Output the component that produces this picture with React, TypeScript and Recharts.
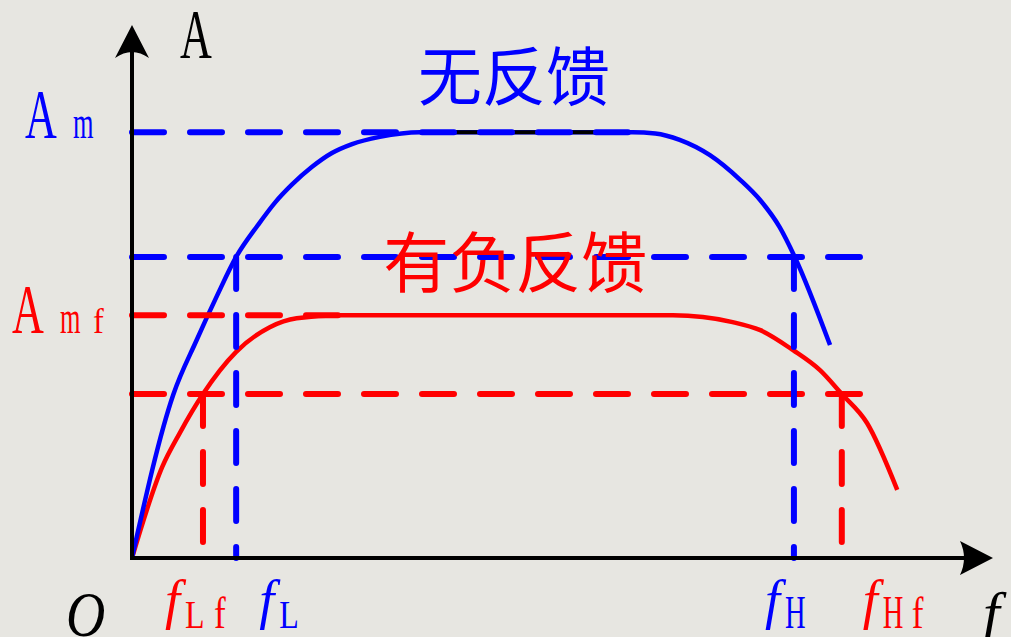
import React from 'react';
import { LineChart, Line, XAxis, YAxis, ReferenceLine, ReferenceDot } from 'recharts';

// 无反馈 curve: frequency (arbitrary units) vs gain (Am = 100)
const noFeedback = [
  { f: 0, a: 0 },
  { f: 4.9, a: 38.3 },
  { f: 7.7, a: 51.2 },
  { f: 10.1, a: 61.5 },
  { f: 12.4, a: 70.7 },
  { f: 15.0, a: 78.2 },
  { f: 17.0, a: 83.4 },
  { f: 19.0, a: 87.6 },
  { f: 21.4, a: 91.8 },
  { f: 23.8, a: 95.1 },
  { f: 26.2, a: 97.2 },
  { f: 29.5, a: 98.9 },
  { f: 34.3, a: 100 },
  { f: 59.6, a: 100 },
  { f: 62.3, a: 99.7 },
  { f: 65.2, a: 98.2 },
  { f: 68.8, a: 94.6 },
  { f: 72.4, a: 88.8 },
  { f: 74.8, a: 84.0 },
  { f: 77.1, a: 77.7 },
  { f: 78.9, a: 70.7 },
  { f: 83.1, a: 50.0 },
];

// 有负反馈 curve
const negFeedback = [
  { f: 0, a: 0 },
  { f: 3.6, a: 21.4 },
  { f: 5.7, a: 29.4 },
  { f: 8.45, a: 38.5 },
  { f: 12.4, a: 48.4 },
  { f: 16.4, a: 54.2 },
  { f: 19.6, a: 56.3 },
  { f: 24.8, a: 57 },
  { f: 64.4, a: 57 },
  { f: 71.5, a: 55.4 },
  { f: 74.8, a: 53.5 },
  { f: 78.7, a: 48.8 },
  { f: 81.9, a: 44.1 },
  { f: 84.5, a: 38.5 },
  { f: 87.5, a: 31.7 },
  { f: 91.1, a: 16.0 },
];

// gain levels
const Am = 100;
const AmHalf = 70.7;
const Amf = 57;
const AmfHalf = 38.5;

// corner frequencies
const fLf = 8.45;
const fL = 12.4;
const fH = 78.8;
const fHf = 84.5;

// how far the guide lines reach
const amLineEnd = 60;
const amfLineEnd = 24.8;
const halfLineEnd = 87.1;
const flatTop = [34.3, 58.5];

const xTicks = [fLf, fL, fH, fHf];
const xTickSubs = ['Lf', 'L', 'H', 'Hf'];
const yTicks = [Am, Amf];
const yTickSubs = ['m', 'mf'];
const titles = ['无反馈', '有负反馈'];
const titlePos = [
  { x: 34.05, y: 107.6 },
  { x: 29.9, y: 63.6 },
];

const BLUE = '#0000ff';
const RED = '#ff0000';
const BG = '#e7e6e1';
const SERIF = '"Liberation Serif", "DejaVu Serif", serif';
const CJK = '"Noto Sans CJK SC", "Noto Sans CJK JP", sans-serif';

const xTickColors = [RED, BLUE, BLUE, RED];
const xLabelDx = [-38, 23, -29, 21];
const yTickColors = [BLUE, RED];
const yLabelLeft = [25, 12];
const yLabelDy = [6, 18];

const Glyph = ({ x, y, ch, size, sx = 1, italic = false, fill }: any) => (
  <text
    transform={`translate(${x} ${y}) scale(${sx} 1)`}
    fontFamily={SERIF}
    fontSize={size}
    fontStyle={italic ? 'italic' : 'normal'}
    fill={fill}
  >
    {ch}
  </text>
);

const subStyle = (c: string) =>
  c === c.toUpperCase() ? { size: c === 'H' ? 46 : 40, sx: c === 'H' ? 0.62 : 0.8 } : { size: 44, sx: 0.8 };

const XTick = (props: any) => {
  const { x, payload } = props;
  const i = xTicks.indexOf(payload.value);
  if (i < 0) return null;
  const color = xTickColors[i];
  const ox = x + xLabelDx[i];
  return (
    <g>
      <Glyph x={ox} y={618} ch="f" size={54} italic fill={color} />
      {xTickSubs[i].split('').map((c, k) => (
        <Glyph key={k} x={ox + 20 + k * 29} y={628} ch={c} {...subStyle(c)} fill={color} />
      ))}
    </g>
  );
};

const YTick = (props: any) => {
  const { y, payload } = props;
  const i = yTicks.indexOf(payload.value);
  if (i < 0) return null;
  const color = yTickColors[i];
  const left = yLabelLeft[i];
  const base = y + yLabelDy[i];
  return (
    <g>
      <Glyph x={left} y={base} ch="A" size={70} sx={0.63} fill={color} />
      {yTickSubs[i].split('').map((c, k) => (
        <Glyph
          key={k}
          x={left + 48 + k * 33}
          y={base}
          ch={c}
          size={c === 'm' ? 47 : 36}
          sx={c === 'm' ? 0.56 : 0.9}
          fill={color}
        />
      ))}
    </g>
  );
};

const dash = {
  strokeWidth: 6,
  strokeDasharray: '32 26',
  strokeLinecap: 'round' as const,
  ifOverflow: 'visible' as const,
};

export default function App() {
  return (
    <div style={{ width: 1011, height: 637, background: BG, overflow: 'hidden' }}>
      <style>{'body{margin:0}'}</style>
      <LineChart width={1011} height={637} margin={{ top: 47, right: 39, bottom: 19, left: 0 }}>
        <XAxis
          type="number"
          dataKey="f"
          domain={[0, 100]}
          ticks={xTicks}
          interval={0}
          tick={(p: any) => <XTick {...p} />}
          tickLine={false}
          axisLine={{ stroke: '#000', strokeWidth: 4, strokeLinecap: 'square' }}
          height={60}
          allowDataOverflow
        />
        <YAxis
          type="number"
          domain={[0, 120]}
          ticks={yTicks}
          interval={0}
          tick={(p: any) => <YTick {...p} />}
          tickLine={false}
          axisLine={{ stroke: '#000', strokeWidth: 4, strokeLinecap: 'square' }}
          width={132}
          allowDataOverflow
        />
        <Line
          data={negFeedback}
          dataKey="a"
          type="monotone"
          stroke={RED}
          strokeWidth={4.5}
          dot={false}
          activeDot={false}
          isAnimationActive={false}
        />
        <Line
          data={noFeedback}
          dataKey="a"
          type="monotone"
          stroke={BLUE}
          strokeWidth={4.5}
          dot={false}
          activeDot={false}
          isAnimationActive={false}
        />
        <ReferenceLine
          segment={[{ x: flatTop[0], y: Am }, { x: flatTop[1], y: Am }]}
          stroke="#000"
          strokeWidth={4}
          ifOverflow="visible"
        />
        <ReferenceLine segment={[{ x: 0, y: Amf }, { x: amfLineEnd, y: Amf }]} stroke={RED} {...dash} />
        <ReferenceLine segment={[{ x: 0, y: AmfHalf }, { x: halfLineEnd, y: AmfHalf }]} stroke={RED} {...dash} />
        <ReferenceLine segment={[{ x: fLf, y: AmfHalf }, { x: fLf, y: 0 }]} stroke={RED} {...dash} />
        <ReferenceLine segment={[{ x: fHf, y: AmfHalf }, { x: fHf, y: 0 }]} stroke={RED} {...dash} />
        <ReferenceLine segment={[{ x: 0, y: Am }, { x: amLineEnd, y: Am }]} stroke={BLUE} {...dash} />
        <ReferenceLine segment={[{ x: 0, y: AmHalf }, { x: halfLineEnd, y: AmHalf }]} stroke={BLUE} {...dash} />
        <ReferenceLine segment={[{ x: fL, y: AmHalf }, { x: fL, y: 0 }]} stroke={BLUE} {...dash} />
        <ReferenceLine segment={[{ x: fH, y: AmHalf }, { x: fH, y: 0 }]} stroke={BLUE} {...dash} />
        {/* y axis arrow and name */}
        <ReferenceDot
          x={0}
          y={120}
          r={1}
          ifOverflow="visible"
          shape={(p: any) => (
            <g>
              <path
                d={`M${p.cx},${p.cy - 22} L${p.cx + 17},${p.cy + 11} Q${p.cx},${p.cy - 1} ${p.cx - 17},${p.cy + 11} Z`}
                fill="#000"
              />
              <Glyph x={p.cx + 48} y={p.cy + 11} ch="A" size={70} sx={0.63} fill="#000" />
            </g>
          )}
        />
        {/* x axis arrow and name */}
        <ReferenceDot
          x={100}
          y={0}
          r={1}
          ifOverflow="visible"
          shape={(p: any) => (
            <g>
              <path
                d={`M${p.cx + 21},${p.cy} L${p.cx - 12},${p.cy - 17} Q${p.cx - 4},${p.cy} ${p.cx - 12},${p.cy + 17} Z`}
                fill="#000"
              />
              <Glyph x={p.cx + 11} y={p.cy + 75} ch="f" size={60} italic fill="#000" />
            </g>
          )}
        />
        {/* origin */}
        <ReferenceDot
          x={0}
          y={0}
          r={1}
          ifOverflow="visible"
          shape={(p: any) => <Glyph x={p.cx - 66} y={p.cy + 78} ch="O" size={64} sx={0.85} italic fill="#000" />}
        />
        {titles.map((t, i) => (
          <ReferenceDot
            key={t}
            x={titlePos[i].x}
            y={titlePos[i].y}
            r={1}
            ifOverflow="visible"
            shape={(p: any) => (
              <text x={p.cx} y={p.cy} fontFamily={CJK} fontSize={i === 0 ? 64 : 66} fill={i === 0 ? BLUE : RED}>
                {t}
              </text>
            )}
          />
        ))}
      </LineChart>
    </div>
  );
}
